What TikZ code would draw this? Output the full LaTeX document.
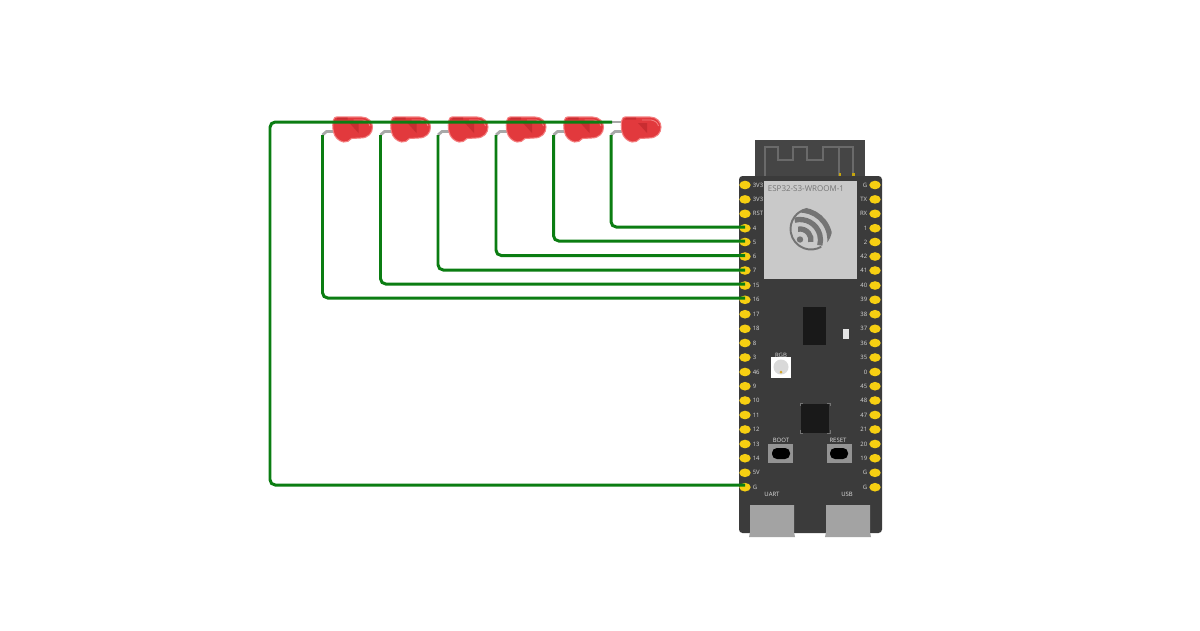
\documentclass[tikz,border=0pt]{standalone}
\usepackage{fontspec}
\setmainfont{Open Sans}
\usetikzlibrary{shapes.geometric}
\definecolor{boardgray}{HTML}{3B3B3B}
\definecolor{antgray}{HTML}{454545}
\definecolor{tracegray}{HTML}{6A6A6A}
\definecolor{modgray}{HTML}{C9C9C9}
\definecolor{logogray}{HTML}{747474}
\definecolor{pinyellow}{HTML}{F6CF12}
\definecolor{wiregreen}{HTML}{0B7D12}
\definecolor{ledred}{HTML}{E2393D}
\definecolor{leddark}{HTML}{C92D31}
\definecolor{ledlight}{HTML}{F47F80}
\definecolor{leadgray}{HTML}{A8A8A8}
\definecolor{usbgray}{HTML}{A3A3A3}
\tikzset{
  pin/.style={ellipse,fill=pinyellow,minimum width=6.5pt,minimum height=4.9pt,inner sep=0pt},
  pintext/.style={text=white!85!black,font=\fontsize{3.4}{4}\selectfont,inner sep=0pt},
  lpin/.style={pin,label={[pintext,xshift=.8pt]0:#1}},
  rpin/.style={pin,label={[pintext,xshift=-.8pt]180:#1}},
  boardtext/.style={text=white!88!black,font=\fontsize{3.4}{4}\selectfont,inner sep=0pt},
  wire/.style={draw=wiregreen,line width=1.7pt,rounded corners=3pt},
  lead/.style={draw=leadgray,line width=1.6pt},
  ledbody/.pic={
    \draw[lead] (-10,-6) -- (2,-6);
    \draw[lead] (-11,7) -- (-7,3.5) -- (2,3.5);
    \draw[fill=ledred,draw=ledlight,line width=.6pt] (3,-11) -- (28,-11) .. controls (35,-11) and (39,-6) .. (39,-1)
       .. controls (39,5) and (35,10) .. (27,10) -- (18,10.5) .. controls (16,13) and (13,14.5) .. (10,14)
       .. controls (5,13) and (1,9) .. (0,4) .. controls (-1,0) and (-1,-6) .. (0,-8)
       .. controls (.5,-10) and (1.5,-11) .. (3,-11) -- cycle;
    \fill[leddark] (4,-10.5) -- (14,-10.5) -- (14,-8.5) -- (3,-8.5) -- cycle;
    \fill[leddark] (16,-5) -- (25,-5) -- (25,5) -- cycle;
    \draw[ledlight,line width=.5pt] (20,-8) -- (29,-8) .. controls (33,-7.5) and (36,-5) .. (36.5,-2);
    \coordinate (-c) at (-10,-6);
    \coordinate (-a) at (-11,7);
  }
}
\begin{document}
\begin{tikzpicture}[x=0.02cm,y=-0.02cm]
  \useasboundingbox[fill=white] (0,0) rectangle (1200,630);
  % antenna
  \fill[antgray] (755,140) rectangle (865,178);
  \draw[tracegray,line width=1.4pt] (765,176) -- (765,147) -- (778,147) -- (778,160) -- (793,160)
     -- (793,147) -- (807,147) -- (807,160) -- (823,160) -- (823,147) -- (853,147) -- (853,176);
  \draw[tracegray,line width=1.4pt] (839,147) -- (839,176);
  % board
  \fill[boardgray,rounded corners=2pt] (739,176) rectangle (882,533);
  \fill[pinyellow!80!black] (838.5,173) rectangle (841,176);
  \fill[pinyellow!80!black] (852,173) rectangle (854.5,176);
  % module
  \fill[modgray] (763.5,181) rectangle (857,279);
  \node[anchor=west,text=logogray,font=\fontsize{4.55}{6}\selectfont,inner sep=0pt] (modname) at (767.5,189) {ESP32-S3-WROOM-1};
  % logo
  \draw[logogray,line width=1.1pt] (811,229) ++(-100:20.5) arc (-100:-300:20.5);
  \begin{scope}
    \clip (811,229) circle (21);
    \draw[logogray,line width=3pt] (800,240) ++(-100:11) arc (-100:10:11);
    \draw[logogray,line width=3pt] (800,240) ++(-105:20.5) arc (-105:15:20.5);
    \draw[logogray,line width=3pt] (800,240) ++(-105:30) arc (-105:15:30);
  \end{scope}
  \fill[logogray] (800,239.5) circle (3.2);
  % chips and buttons
  \fill[black!90] (803,307) rectangle (826,345);
  \fill[white!90!black] (843,329) rectangle (849,339);
  \fill[white] (771,357) rectangle (791,378);
  \fill[white!85!black] (781,367) circle (7.5);
  \fill[brown!70!yellow] (781,372) circle (1.5);
  \node[boardtext] (rgbtext) at (781,355) {RGB};
  \fill[black!90] (801,404) rectangle (829,433);
  \draw[white!45!black,line width=.4pt] (800,406) -- (800,403) -- (803,403);
  \draw[white!45!black,line width=.4pt] (827,403) -- (830,403) -- (830,406);
  \draw[white!45!black,line width=.4pt] (800,430) -- (800,433) -- (803,433);
  \draw[white!45!black,line width=.4pt] (827,433) -- (830,433) -- (830,430);
  \fill[usbgray!90!black] (768,444) rectangle (793,463);
  \fill[black,rounded corners=2.8pt] (772,448) rectangle (790,459);
  \node[boardtext] (boottext) at (781,440) {BOOT};
  \fill[usbgray!90!black] (827,444) rectangle (852,463);
  \fill[black,rounded corners=2.8pt] (830,448) rectangle (848,459);
  \node[boardtext] (resettext) at (838,440) {RESET};
  \node[boardtext] (uarttext) at (772,494) {UART};
  \node[boardtext] (usbtext) at (847,494) {USB};
  \fill[usbgray] (750,505) -- (794,505) -- (794,532) -- (795,537) -- (749,537) -- (750,532) -- cycle;
  \fill[usbgray] (826,505) -- (870,505) -- (870,532) -- (871,537) -- (825,537) -- (826,532) -- cycle;
  % left pins
  \node[lpin=3V3] (l1) at (745,185) {};
  \node[lpin=3V3] (l2) at (745,199.4) {};
  \node[lpin=RST] (l3) at (745,213.8) {};
  \node[lpin=4] (l4) at (745,228.2) {};
  \node[lpin=5] (l5) at (745,242) {};
  \node[lpin=6] (l6) at (745,256.5) {};
  \node[lpin=7] (l7) at (745,270.5) {};
  \node[lpin=15] (l15) at (745,285.5) {};
  \node[lpin=16] (l16) at (745,299.8) {};
  \node[lpin=17] (l17) at (745,314.2) {};
  \node[lpin=18] (l18) at (745,328.8) {};
  \node[lpin=8] (l8) at (745,343) {};
  \node[lpin=3] (l9) at (745,357.5) {};
  \node[lpin=46] (l46) at (745,372) {};
  \node[lpin=9] (l10) at (745,386.2) {};
  \node[lpin=10] (l11) at (745,400.5) {};
  \node[lpin=11] (l12) at (745,415) {};
  \node[lpin=12] (l13) at (745,429.5) {};
  \node[lpin=13] (l14) at (745,444) {};
  \node[lpin=14] (l19) at (745,458.2) {};
  \node[lpin=5V] (l20) at (745,472.8) {};
  \node[lpin=G] (lg) at (745,487.2) {};
  % right pins
  \node[rpin=G] (r1) at (875,185) {};
  \node[rpin=TX] (r2) at (875,199.4) {};
  \node[rpin=RX] (r3) at (875,213.8) {};
  \node[rpin=1] (r4) at (875,228.2) {};
  \node[rpin=2] (r5) at (875,242) {};
  \node[rpin=42] (r6) at (875,256.5) {};
  \node[rpin=41] (r7) at (875,270.5) {};
  \node[rpin=40] (r8) at (875,285.5) {};
  \node[rpin=39] (r9) at (875,299.8) {};
  \node[rpin=38] (r10) at (875,314.2) {};
  \node[rpin=37] (r11) at (875,328.8) {};
  \node[rpin=36] (r12) at (875,343) {};
  \node[rpin=35] (r13) at (875,357.5) {};
  \node[rpin=0] (r14) at (875,372) {};
  \node[rpin=45] (r15) at (875,386.2) {};
  \node[rpin=48] (r16) at (875,400.5) {};
  \node[rpin=47] (r17) at (875,415) {};
  \node[rpin=21] (r18) at (875,429.5) {};
  \node[rpin=20] (r19) at (875,444) {};
  \node[rpin=19] (r20) at (875,458.2) {};
  \node[rpin=G] (r21) at (875,472.8) {};
  \node[rpin=G] (r22) at (875,487.2) {};
  % leds
  \pic (led1) at (333.5,128) {ledbody};
  \pic (led2) at (391.5,128) {ledbody};
  \pic (led3) at (449,128) {ledbody};
  \pic (led4) at (507,128) {ledbody};
  \pic (led5) at (564.5,128) {ledbody};
  \pic (led6) at (622,128) {ledbody};
  % wires
  \coordinate (gndbend) at (270,122);
  \coordinate (wg) at (745,485);
  \coordinate (w16) at (745,298);
  \coordinate (w15) at (745,284);
  \coordinate (w7) at (745,270);
  \coordinate (w6) at (745,255.5);
  \coordinate (w5) at (745,241);
  \coordinate (w4) at (745,227);
  \draw[wire] (led6-c) -- (gndbend) |- (wg);
  \draw[wire] (led1-a) |- (w16);
  \draw[wire] (led2-a) |- (w15);
  \draw[wire] (led3-a) |- (w7);
  \draw[wire] (led4-a) |- (w6);
  \draw[wire] (led5-a) |- (w5);
  \draw[wire] (led6-a) |- (w4);
\end{tikzpicture}
\end{document}
